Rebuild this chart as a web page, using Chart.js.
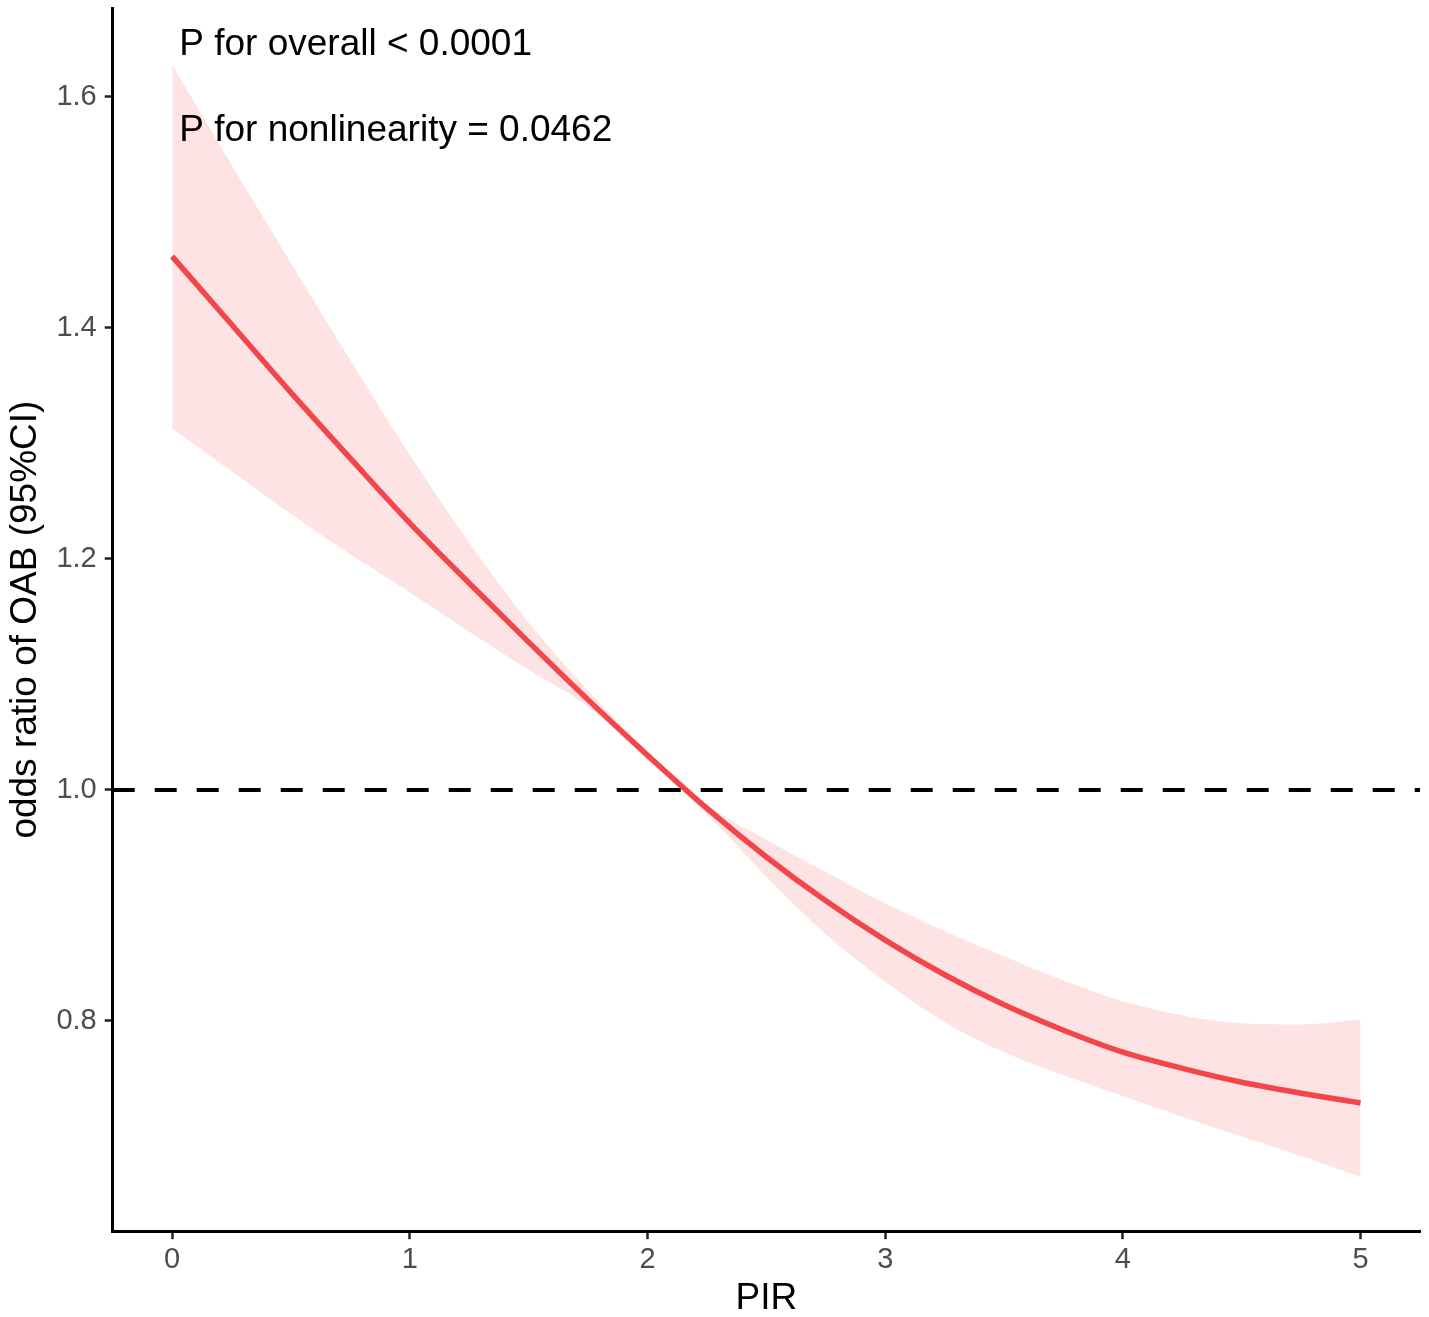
<!DOCTYPE html>
<html>
<head>
<meta charset="utf-8">
<title>PIR and odds ratio of OAB</title>
<script src="https://cdn.jsdelivr.net/npm/chart.js"></script>
<style>
  html, body { margin: 0; padding: 0; background: #fff; }
  #wrap { width: 1429px; height: 1317px; }
</style>
</head>
<body>
<div id="wrap"><canvas id="rcs"></canvas></div>
<script>
// values, every 0.25 PIR
const pir      = [0, 0.25, 0.5, 0.75, 1, 1.25, 1.5, 1.75, 2, 2.25, 2.5, 2.75, 3, 3.25, 3.5, 3.75, 4, 4.25, 4.5, 4.75, 5];
const orFit    = [1.462, 1.403, 1.344, 1.287, 1.231, 1.179, 1.128, 1.078, 1.030, 0.984, 0.942, 0.904, 0.870, 0.840, 0.814, 0.792, 0.773, 0.759, 0.747, 0.7375, 0.729];
const ciUpper  = [1.628, 1.541, 1.456, 1.372, 1.290, 1.214, 1.145, 1.086, 1.034, 0.987, 0.957, 0.929, 0.902, 0.878, 0.856, 0.835, 0.817, 0.805, 0.798, 0.797, 0.801];
const ciLower  = [1.313, 1.276, 1.239, 1.204, 1.171, 1.137, 1.104, 1.072, 1.026, 0.979, 0.925, 0.875, 0.834, 0.799, 0.773, 0.753, 0.735, 0.717, 0.700, 0.683, 0.665];

const xTicks = [0, 1, 2, 3, 4, 5];
const yTicks = [0.8, 1.0, 1.2, 1.4, 1.6];
const refOR = 1;

const notes = ["P for overall < 0.0001", "P for nonlinearity = 0.0462"];
const noteX = 0.03;
const noteY = [1.645, 1.571];

const X_MIN = -0.25, X_MAX = 5.25;
const Y_MIN = 0.618, Y_MAX = 1.677;

const FONT = '"Liberation Sans", Arial, sans-serif';

const toPts = (xs, ys) => xs.map((v, i) => ({ x: v, y: ys[i] }));

const pNotes = {
  id: 'pNotes',
  afterDatasetsDraw(chart) {
    const { ctx, scales: { x, y } } = chart;
    ctx.save();
    ctx.font = '37px ' + FONT;
    ctx.fillStyle = '#000';
    ctx.textAlign = 'left';
    ctx.textBaseline = 'middle';
    notes.forEach((t, i) => ctx.fillText(t, x.getPixelForValue(noteX), y.getPixelForValue(noteY[i])));
    ctx.restore();
  }
};

new Chart(document.getElementById('rcs'), {
  type: 'line',
  data: {
    datasets: [
      {
        label: 'upper',
        data: toPts(pir, ciUpper),
        borderWidth: 0,
        borderColor: 'rgba(0,0,0,0)',
        backgroundColor: '#FDE3E4',
        pointRadius: 0,
        fill: '+1',
        cubicInterpolationMode: 'monotone',
        order: 3
      },
      {
        label: 'lower',
        data: toPts(pir, ciLower),
        borderWidth: 0,
        borderColor: 'rgba(0,0,0,0)',
        pointRadius: 0,
        fill: false,
        cubicInterpolationMode: 'monotone',
        order: 4
      },
      {
        label: 'OR',
        data: toPts(pir, orFit),
        borderColor: '#F2464A',
        borderWidth: 5.5,
        pointRadius: 0,
        fill: false,
        cubicInterpolationMode: 'monotone',
        order: 1
      },
      {
        label: 'ref',
        data: [{ x: X_MIN, y: refOR }, { x: X_MAX, y: refOR }],
        borderColor: '#000',
        borderWidth: 4,
        borderDash: [22, 20],
        pointRadius: 0,
        fill: false,
        order: 0
      }
    ]
  },
  options: {
    responsive: true,
    maintainAspectRatio: false,
    animation: false,
    devicePixelRatio: 1,
    layout: { padding: { top: 8, right: 9, bottom: 0, left: 0 } },
    plugins: {
      legend: { display: false },
      tooltip: { enabled: false }
    },
    scales: {
      x: {
        type: 'linear',
        min: X_MIN,
        max: X_MAX,
        afterBuildTicks: axis => { axis.ticks = xTicks.map(v => ({ value: v })); },
        grid: { display: true, drawOnChartArea: false, drawTicks: true, tickLength: 8, tickColor: '#222', tickWidth: 2.5 },
        border: { display: true, color: '#000', width: 3 },
        ticks: { color: '#4D4D4D', font: { family: FONT, size: 29 }, padding: 3, maxRotation: 0 },
        title: { display: true, text: 'PIR', color: '#000', font: { family: FONT, size: 37, lineHeight: 1.0 }, padding: { top: 0, bottom: 0 } }
      },
      y: {
        type: 'linear',
        min: Y_MIN,
        max: Y_MAX,
        afterBuildTicks: axis => { axis.ticks = yTicks.map(v => ({ value: v })); },
        afterFit: axis => { axis.paddingTop = 0; axis.paddingBottom = 0; },
        grid: { display: true, drawOnChartArea: false, drawTicks: true, tickLength: 8, tickColor: '#222', tickWidth: 2.5 },
        border: { display: true, color: '#000', width: 3 },
        ticks: { color: '#4D4D4D', font: { family: FONT, size: 29 }, padding: 8, callback: v => v.toFixed(1) },
        title: { display: true, text: 'odds ratio of OAB (95%CI)', color: '#000', font: { family: FONT, size: 37 }, padding: { top: 4, bottom: 0 } }
      }
    }
  },
  plugins: [pNotes]
});
</script>
</body>
</html>
